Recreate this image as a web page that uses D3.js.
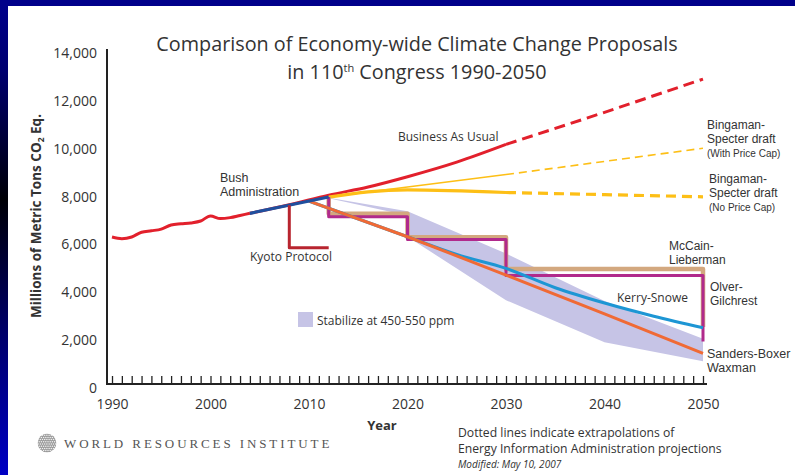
<!DOCTYPE html>
<html>
<head>
<meta charset="utf-8">
<script src="https://cdn.jsdelivr.net/npm/d3@7"></script>
<style>
  html, body { margin: 0; padding: 0; background: #fff; }
  svg { display: block; }
  text { font-family: "Open Sans", "Noto Sans", sans-serif; fill: #333; }
  text.stack { font-family: "Liberation Sans", Arial, sans-serif; }
</style>
</head>
<body>
<svg id="chart" width="795" height="475"></svg>
<script>
// ---- data (millions of metric tons CO2 equivalent) ----
const histYears  = [1990, 1991, 1992, 1993, 1994, 1995, 1996, 1997, 1998, 1999, 2000, 2001, 2002, 2003, 2004];
const histValues = [6310, 6240, 6310, 6510, 6570, 6640, 6810, 6860, 6900, 6980, 7190, 7080, 7120, 7210, 7300];

const bushYears  = [2004, 2012];
const bushValues = [7300, 7980];

const bauYears      = [2004, 2008, 2012, 2016, 2020, 2025, 2030];
const bauValues     = [7300, 7660, 8060, 8400, 8830, 9440, 10180];
const bauProjYears  = [2030, 2040, 2050];
const bauProjValues = [10180, 11520, 12910];

const kyotoYears  = [2008, 2008, 2012];
const kyotoValues = [7640, 5860, 5860];

const bsCapYears      = [2012, 2030];
const bsCapValues     = [7980, 8920];
const bsCapProjYears  = [2030, 2050];
const bsCapProjValues = [8920, 10020];

const bsNoCapYears      = [2012, 2016, 2020, 2030];
const bsNoCapValues     = [7980, 8200, 8280, 8170];
const bsNoCapProjYears  = [2030, 2040, 2050];
const bsNoCapProjValues = [8170, 8080, 7990];

const sandersYears  = [2010, 2020, 2030, 2040, 2050];
const sandersValues = [7810, 6320, 4720, 3100, 1450];

const kerryYears  = [2010, 2020, 2025, 2030, 2035, 2040, 2045, 2050];
const kerryValues = [7810, 6320, 5580, 5000, 4190, 3550, 3000, 2520];

// step targets: level held from each step year to the next
const stepYears       = [2012, 2020, 2030, 2050];
const mccainStart     = 7980;
const mccainLevels    = [7280, 6300, 4970];
const mccainEnd       = 2550;
const olverStart      = 7980;
const olverLevels     = [7160, 6210, 4700];
const olverEnd        = 1940;

// stabilisation range 450-550 ppm
const bandUpperYears  = [2012, 2020, 2030, 2040, 2050];
const bandUpperValues = [7950, 7390, 5620, 3640, 2060];
const bandLowerYears  = [2012, 2020, 2020, 2030, 2040, 2050];
const bandLowerValues = [7930, 7210, 6320, 3670, 1910, 1120];

const yTicks = [0, 2000, 4000, 6000, 8000, 10000, 12000, 14000];
const xTicks = [1990, 2000, 2010, 2020, 2030, 2040, 2050];

// ---- colours ----
const C = {
  red: "#e2202c", bush: "#1f4f9e", kyoto: "#b8252f", yellow: "#fdbf16",
  orange: "#f06a35", kerry: "#1d96d4", tan: "#d3a87f", magenta: "#b12a8c",
  band: "#c6c4e6", text: "#333"
};

const W = 795, H = 475;
const svg = d3.select("#chart");

// frame
const defs = svg.append("defs");
const g0 = defs.append("linearGradient").attr("id", "frameGrad")
  .attr("x1", 0).attr("y1", 0).attr("x2", 0).attr("y2", 1);
[[0, "#00008c"], [0.15, "#000070"], [0.42, "#000006"], [0.7, "#00006a"], [1, "#0000c4"]]
  .forEach(([o, c]) => g0.append("stop").attr("offset", o).attr("stop-color", c));
svg.append("rect").attr("width", W).attr("height", H).attr("fill", "url(#frameGrad)");
svg.append("rect").attr("x", 0).attr("y", 0).attr("width", W).attr("height", 6).attr("fill", "#00008a");
svg.append("rect").attr("x", 8).attr("y", 6).attr("width", W - 8).attr("height", H - 6).attr("fill", "#fff");

// scales
const x = d3.scaleLinear().domain([1990, 2050]).range([112, 703]);
const y = d3.scaleLinear().domain([0, 14000]).range([388, 53]);
const zip = (xs, vs) => xs.map((d, i) => [d, vs[i]]);
const line = d3.line().x(d => x(d[0])).y(d => y(d[1]));
const smooth = d3.line().x(d => x(d[0])).y(d => y(d[1])).curve(d3.curveMonotoneX);

// title
const title = svg.append("g").attr("text-anchor", "middle");
title.append("text").attr("x", 417).attr("y", 51).style("font-size", "19.8px")
  .text("Comparison of Economy-wide Climate Change Proposals");
const t2 = title.append("text").attr("x", 417).attr("y", 79).style("font-size", "19.8px");
t2.append("tspan").text("in 110");
t2.append("tspan").attr("dy", -7).style("font-size", "11px").text("th");
t2.append("tspan").attr("dy", 7).text(" Congress 1990-2050");

// band
const bandPts = zip(bandUpperYears, bandUpperValues)
  .concat(zip(bandLowerYears, bandLowerValues).reverse());
svg.append("path").attr("d", line(bandPts) + "Z").attr("fill", C.band);

// axes
const axisY = 384;
const yAxis = svg.append("g").attr("transform", "translate(107,0)")
  .call(d3.axisLeft(y).tickValues(yTicks).tickSize(0).tickPadding(10).tickFormat(d3.format(",")));
yAxis.select(".domain").remove();
yAxis.selectAll("text").style("font-size", "14px").style("fill", C.text)
  .style("font-family", "'Open Sans', sans-serif");

const xMinor = svg.append("g").attr("transform", `translate(0,${axisY})`)
  .call(d3.axisTop(x).tickValues(d3.range(1990, 2051)).tickSize(8).tickFormat(""));
xMinor.select(".domain").remove();
xMinor.selectAll("line").attr("stroke", "#222").attr("stroke-width", 1.3);

const xLab = svg.append("g").attr("transform", `translate(0,${axisY})`)
  .call(d3.axisBottom(x).tickValues(xTicks).tickSize(0).tickPadding(15).tickFormat(d3.format("d")));
xLab.select(".domain").remove();
xLab.selectAll("text").style("font-size", "14px").style("fill", C.text)
  .style("font-family", "'Open Sans', sans-serif");

svg.append("path").attr("d", `M107,49V${axisY}H707`).attr("fill", "none")
  .attr("stroke", "#222").attr("stroke-width", 2);

// y-axis title
const yt = svg.append("text").attr("transform", "translate(41,216) rotate(-90)")
  .attr("text-anchor", "middle").style("font-size", "13.5px").style("font-weight", "bold");
yt.append("tspan").text("Millions of Metric Tons CO");
yt.append("tspan").attr("dy", 3).style("font-size", "8.5px").text("2");
yt.append("tspan").attr("dy", -3).text(" Eq.");

svg.append("text").attr("x", 382).attr("y", 430).attr("text-anchor", "middle")
  .style("font-size", "13px").style("font-weight", "bold").text("Year");

// series
function draw(pts, color, width, dash, gen) {
  svg.append("path").attr("d", (gen || line)(pts)).attr("fill", "none")
    .attr("stroke", color).attr("stroke-width", width)
    .attr("stroke-dasharray", dash || null)
    .attr("stroke-linejoin", "round");
}

draw(zip(bauYears, bauValues), C.red, 3, null, smooth);
draw(zip(bauProjYears, bauProjValues), C.red, 3, "11,6");

draw(zip(bsCapYears, bsCapValues), C.yellow, 1.6);
draw(zip(bsCapProjYears, bsCapProjValues), C.yellow, 1.6, "8,5");
draw(zip(bsNoCapYears, bsNoCapValues), C.yellow, 3.2, null, smooth);
draw(zip(bsNoCapProjYears, bsNoCapProjValues), C.yellow, 3.2, "10,6");

function stepPts(start, levels, end) {
  const pts = [[stepYears[0], start]];
  levels.forEach((v, i) => { pts.push([stepYears[i], v], [stepYears[i + 1], v]); });
  pts.push([stepYears[stepYears.length - 1], end]);
  return pts;
}
draw(stepPts(mccainStart, mccainLevels, mccainEnd), C.tan, 4.5);
draw(stepPts(olverStart, olverLevels, olverEnd), C.magenta, 3);

draw(zip(kerryYears, kerryValues), C.kerry, 3, null, smooth);
draw(zip(sandersYears, sandersValues), C.orange, 3);

draw(zip(histYears, histValues), C.red, 3, null, smooth);
draw(zip(bushYears, bushValues), C.bush, 3.2);
draw(zip(kyotoYears, kyotoValues), C.kyoto, 3);

// labels: each line is its own text element
function label(lines, x0, y0, size, lh, cls) {
  lines.forEach((l, i) => {
    svg.append("text").attr("class", cls || null).attr("x", x0).attr("y", y0 + i * lh)
      .style("font-size", (l.size || size) + "px").text(l.text || l);
  });
}
label(["Business As Usual"], 398, 141, 12, 0);
label(["Bush", "Administration"], 220, 182, 12.5, 14, "stack");
label(["Kyoto Protocol"], 250, 261, 12, 0);
label(["Bingaman-", "Specter draft"], 707, 129, 12, 13.5, "stack");
label(["(With Price Cap)"], 707, 157, 10, 0, "stack");
label(["Bingaman-", "Specter draft"], 709, 183, 12, 13.5, "stack");
label(["(No Price Cap)"], 709, 211, 10, 0, "stack");
label(["McCain-", "Lieberman"], 669, 250, 12, 13.5, "stack");
label(["Olver-", "Gilchrest"], 710, 291, 12, 13.5, "stack");
label(["Kerry-Snowe"], 617, 302, 12, 0);
label(["Sanders-Boxer", "Waxman"], 707, 358, 12.5, 14, "stack");

// legend
svg.append("rect").attr("x", 298).attr("y", 312).attr("width", 15).attr("height", 15).attr("fill", C.band);
label(["Stabilize at 450-550 ppm"], 317, 325, 12, 0);

// footnote
label(["Dotted lines indicate extrapolations of", "Energy Information Administration projections"], 458, 437, 12.2, 16);
svg.append("text").attr("x", 458).attr("y", 468).style("font-size", "10px")
  .style("font-style", "italic").text("Modified: May 10, 2007");

// institute mark: a textured grey disc
const logo = svg.append("g").attr("transform", "translate(47,443)");
defs.append("clipPath").attr("id", "logoClip").append("circle").attr("r", 9.5);
const lg = logo.append("g").attr("clip-path", "url(#logoClip)");
lg.append("circle").attr("r", 9.5).attr("fill", "#9a9a9a");
d3.range(-10, 11, 2.2).forEach((j, row) => d3.range(-10, 11, 2.2).forEach(i => {
  lg.append("circle").attr("cx", i + (row % 2 ? 1.1 : 0)).attr("cy", j)
    .attr("r", 0.75).attr("fill", "#f2f2f2");
}));
svg.append("text").attr("x", 64).attr("y", 448)
  .style("font-family", "'Liberation Serif', 'DejaVu Serif', serif")
  .style("font-size", "13px").style("letter-spacing", "2.9px").style("fill", "#555")
  .text("WORLD RESOURCES INSTITUTE");
</script>
</body>
</html>
